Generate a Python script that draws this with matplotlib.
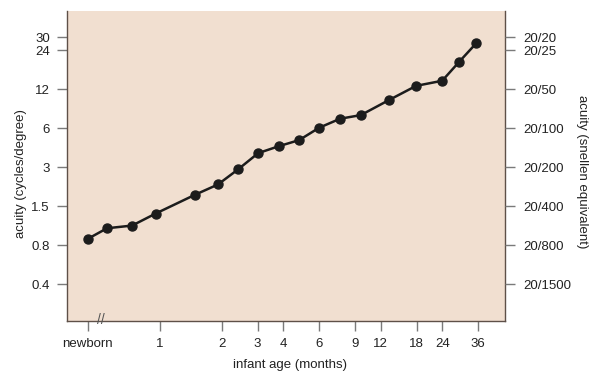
import numpy as np
import matplotlib
matplotlib.use('Agg')
import matplotlib.pyplot as plt

plt.rcParams['font.family'] = ['Liberation Sans', 'DejaVu Sans']

# infant age in months (first point = newborn, drawn at a fixed spot on the log axis)
ages = [0, 0.55, 0.73, 0.95, 1.48, 1.92, 2.41, 3.02, 3.82, 4.79, 6.0, 7.6, 9.6, 13.2, 17.9, 24.0, 29.0, 35.3]
acuity = [0.835, 1.01, 1.06, 1.31, 1.83, 2.20, 2.88, 3.84, 4.35, 4.84, 6.03, 7.08, 7.55, 9.88, 12.7, 13.9, 19.4, 27.2]

newborn_pos = 0.442
x_ticks = [newborn_pos, 1, 2, 3, 4, 6, 9, 12, 18, 24, 36]
x_labels = ['newborn', '1', '2', '3', '4', '6', '9', '12', '18', '24', '36']

y_ticks = [0.375, 0.75, 1.5, 3, 6, 12, 24, 30]
y_labels = ['0.4', '0.8', '1.5', '3', '6', '12', '24', '30']
snellen = ['20/1500', '20/800', '20/400', '20/200', '20/100', '20/50', '20/25', '20/20']

x_plot = [newborn_pos if a == 0 else a for a in ages]

bg = '#F1DFD0'
spine_c = '#5e5048'
tick_c = '#7a7a7a'
txt_c = '#222222'
fs = 9.5

fig = plt.figure(figsize=(6, 3.85), dpi=100)
ax = fig.add_axes([0.111, 0.166, 0.731, 0.805])
ax.set_facecolor(bg)

ax.plot(x_plot, acuity, color='#1c1c1c', lw=1.8, marker='o', ms=6.5, zorder=3)

ax.set_xscale('log')
ax.set_yscale('log')
ax.set_xlim(0.349, 48.8)
ax.set_ylim(0.194, 47.9)

ax.set_xticks(x_ticks)
ax.set_xticklabels(x_labels)
ax.xaxis.set_minor_locator(matplotlib.ticker.NullLocator())
ax.set_yticks(y_ticks)
ax.set_yticklabels(y_labels)
ax.yaxis.set_minor_locator(matplotlib.ticker.NullLocator())

ax.tick_params(axis='both', direction='out', length=7, width=1, color=tick_c,
               labelsize=fs, labelcolor=txt_c, pad=5)

for s in ['left', 'bottom', 'right']:
    ax.spines[s].set_color(spine_c)
    ax.spines[s].set_linewidth(1.0)
ax.spines['top'].set_visible(False)

ax2 = ax.twinx()
ax2.set_yscale('log')
ax2.set_ylim(ax.get_ylim())
ax2.set_yticks(y_ticks)
ax2.set_yticklabels(snellen)
ax2.yaxis.set_minor_locator(matplotlib.ticker.NullLocator())
ax2.tick_params(axis='y', direction='out', length=7, width=1, color=tick_c,
                labelsize=fs, labelcolor=txt_c, pad=6)
for s in ax2.spines.values():
    s.set_visible(False)

ax.set_xlabel('infant age (months)', fontsize=fs, color=txt_c)
ax.set_ylabel('acuity (cycles/degree)', fontsize=fs, color=txt_c)
ax2.set_ylabel('acuity (snellen equivalent)', fontsize=fs, color=txt_c, rotation=270)
ax.xaxis.set_label_coords(0.509, -0.142)
ax.yaxis.set_label_coords(-0.104, 0.477)
ax2.yaxis.set_label_coords(1.176, 0.481)
ax.xaxis.label.set_va('center')
ax.yaxis.label.set_va('center')
ax2.yaxis.label.set_va('center')

# axis break marks on the bottom spine
ax.text(0.512, 0.199, '//', fontsize=10, color='#555555',
        ha='center', va='center', clip_on=False, zorder=4)

fig.savefig('out.png', dpi=100)
